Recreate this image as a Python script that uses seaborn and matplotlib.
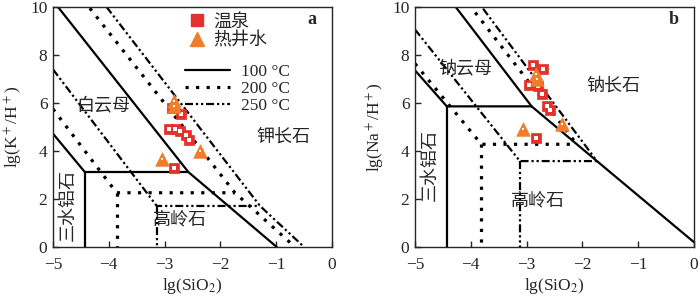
import matplotlib
matplotlib.use("Agg")
import matplotlib.pyplot as plt
import seaborn as sns
import pandas as pd
from matplotlib.lines import Line2D

# ---------------- data ----------------
# panel a : lg(K+/H+) vs lg(SiO2)
a_spring_x = [-2.87, -2.71, -2.93, -2.81, -2.72, -2.62, -2.56, -2.84]
a_spring_y = [5.80, 5.56, 4.90, 4.90, 4.82, 4.65, 4.44, 3.31]
a_well_x = [-2.84, -2.83, -2.37, -3.04]
a_well_y = [6.08, 5.86, 4.00, 3.68]

a_100_upper_x = [-4.91, -2.575, -0.99]
a_100_upper_y = [10.0, 3.125, 0.0]
a_100_lower_x = [-5.0, -4.43, -2.575]
a_100_lower_y = [4.72, 3.125, 3.125]
a_100_vert_x = [-4.43, -4.43]
a_100_vert_y = [3.125, 0.0]

a_200_upper_x = [-4.34, -1.74, -0.72]
a_200_upper_y = [9.95, 2.26, 0.12]
a_200_lower_x = [-5.0, -3.86, -1.74]
a_200_lower_y = [5.75, 2.26, 2.26]
a_200_vert_x = [-3.86, -3.86]
a_200_vert_y = [2.26, 0.0]

a_250_upper_x = [-4.04, -1.29, -0.50]
a_250_upper_y = [10.0, 1.71, 0.0]
a_250_lower_x = [-5.0, -3.14, -1.29]
a_250_lower_y = [7.40, 1.71, 1.71]
a_250_vert_x = [-3.14, -3.14]
a_250_vert_y = [1.71, 0.0]

# panel b : lg(Na+/H+) vs lg(SiO2)
b_spring_x = [-2.89, -2.71, -2.96, -2.80, -2.72, -2.63, -2.58, -2.84]
b_spring_y = [7.60, 7.43, 6.76, 6.69, 6.36, 5.86, 5.72, 4.56]
b_well_x = [-2.84, -2.82, -3.06, -2.36]
b_well_y = [7.22, 7.00, 4.90, 5.11]

b_100_upper_x = [-4.27, -2.91, -1.74, 0.0]
b_100_upper_y = [10.0, 5.86, 3.58, 0.2]
b_100_lower_x = [-5.0, -4.43, -2.91]
b_100_lower_y = [7.36, 5.86, 5.86]
b_100_vert_x = [-4.43, -4.43]
b_100_vert_y = [5.86, 0.0]

b_200_upper_x = [-3.92, -2.10]
b_200_upper_y = [9.77, 4.28]
b_200_lower_x = [-5.0, -3.81, -2.10]
b_200_lower_y = [7.64, 4.28, 4.28]
b_200_vert_x = [-3.81, -3.81]
b_200_vert_y = [4.28, 0.0]

b_250_upper_x = [-3.78, -1.74]
b_250_upper_y = [9.93, 3.58]
b_250_lower_x = [-5.0, -3.12, -1.74]
b_250_lower_y = [9.06, 3.58, 3.58]
b_250_vert_x = [-3.12, -3.12]
b_250_vert_y = [3.58, 0.0]

x_ticks = [-5, -4, -3, -2, -1, 0]
x_tick_labels = ["\u22125", "\u22124", "\u22123", "\u22122", "\u22121", "0"]
y_ticks = [0, 2, 4, 6, 8, 10]

labels_a = [("白云母", -4.10, 5.83, 0), ("钾长石", -0.87, 4.58, 0),
            ("高岭石", -2.72, 1.11, 0), ("三水铝石", -4.73, 1.75, 90)]
labels_b = [("钠云母", -4.10, 7.43, 0), ("钠长石", -1.45, 6.70, 0),
            ("高岭石", -2.79, 1.94, 0), ("三水铝石", -4.73, 3.40, 90)]

# ---------------- style ----------------
sns.set_style("ticks")
plt.rcParams['font.family'] = ['Liberation Serif', 'Noto Sans CJK SC']
plt.rcParams['mathtext.fontset'] = 'stix'
plt.rcParams['xtick.direction'] = 'in'
plt.rcParams['ytick.direction'] = 'in'

RED = "#e4312b"
ORANGE = "#f07d2c"
LW100, LW200, LW250 = 1.6, 2.3, 1.6
ls_200 = (0, (1, 2.3))
ls_250 = (0, (3.6, 1.3, 1, 1.3, 1, 1.3))

fig = plt.figure(figsize=(7.0, 2.99), dpi=100)
ax_a = fig.add_axes([53/700, 52/299, 279/700, 240/299])
ax_b = fig.add_axes([415/700, 52/299, 279/700, 240/299])


def draw_line(ax, xs, ys, style):
    df = pd.DataFrame({"x": xs, "y": ys})
    if style == "100":
        kw = dict(color="black", lw=LW100, linestyle="-")
    elif style == "200":
        kw = dict(color="black", lw=LW200, linestyle=ls_200)
    else:
        kw = dict(color="black", lw=LW250, linestyle=ls_250)
    sns.lineplot(data=df, x="x", y="y", ax=ax, sort=False, estimator=None, **kw)


def draw_panel(ax, lines, spring, well, labels, letter, ylabel):
    for xs, ys, st in lines:
        draw_line(ax, xs, ys, st)
    sns.scatterplot(x=spring[0], y=spring[1], ax=ax, marker="s", s=62,
                    color=RED, edgecolor=RED, linewidth=0.5, zorder=5)
    sns.scatterplot(x=spring[0], y=spring[1], ax=ax, marker="s", s=5,
                    color="white", linewidth=0, zorder=6)
    sns.scatterplot(x=well[0], y=well[1], ax=ax, marker="^", s=95,
                    color=ORANGE, edgecolor=ORANGE, linewidth=0.5, zorder=7)
    sns.scatterplot(x=well[0], y=well[1], ax=ax, marker="s", s=4,
                    color="white", linewidth=0, zorder=8)
    for txt, x, y, rot in labels:
        ax.text(x, y, txt, fontsize=13, ha="center", va="center", rotation=rot)
    ax.text(-0.36, 9.5, letter, fontsize=13, fontweight="bold", ha="center", va="center")
    ax.set_xlim(-5, 0)
    ax.set_ylim(0, 10)
    ax.set_xticks(x_ticks)
    ax.set_xticklabels(x_tick_labels)
    ax.set_yticks(y_ticks)
    ax.tick_params(labelsize=12.5, length=4, width=1.0)
    ax.tick_params(axis="x", pad=7)
    ax.tick_params(axis="y", pad=4)
    ax.set_xlabel("lg(SiO$_2$)", fontsize=12.5, labelpad=2)
    ax.set_ylabel(ylabel, fontsize=12.5, labelpad=4)
    for sp in ax.spines.values():
        sp.set_linewidth(1.0)
        sp.set_visible(True)


lines_a = [(a_100_upper_x, a_100_upper_y, "100"), (a_100_lower_x, a_100_lower_y, "100"),
           (a_100_vert_x, a_100_vert_y, "100"),
           (a_200_upper_x, a_200_upper_y, "200"), (a_200_lower_x, a_200_lower_y, "200"),
           (a_200_vert_x, a_200_vert_y, "200"),
           (a_250_upper_x, a_250_upper_y, "250"), (a_250_lower_x, a_250_lower_y, "250"),
           (a_250_vert_x, a_250_vert_y, "250")]
lines_b = [(b_100_upper_x, b_100_upper_y, "100"), (b_100_lower_x, b_100_lower_y, "100"),
           (b_100_vert_x, b_100_vert_y, "100"),
           (b_200_upper_x, b_200_upper_y, "200"), (b_200_lower_x, b_200_lower_y, "200"),
           (b_200_vert_x, b_200_vert_y, "200"),
           (b_250_upper_x, b_250_upper_y, "250"), (b_250_lower_x, b_250_lower_y, "250"),
           (b_250_vert_x, b_250_vert_y, "250")]

draw_panel(ax_a, lines_a, (a_spring_x, a_spring_y), (a_well_x, a_well_y), labels_a, "a",
           "lg(K$^+$/H$^+$)")
draw_panel(ax_b, lines_b, (b_spring_x, b_spring_y), (b_well_x, b_well_y), labels_b, "b",
           "lg(Na$^+$/H$^+$)")

# legends (panel a)
h_mark = [Line2D([], [], marker="s", ls="none", ms=8, mfc=RED, mec=RED),
          Line2D([], [], marker="^", ls="none", ms=10, mfc=ORANGE, mec=ORANGE)]
leg1 = ax_a.legend(h_mark, ["温泉", "热井水"], loc="upper left",
                   bbox_to_anchor=(0.44, 1.025), frameon=False, fontsize=13,
                   handlelength=1.0, handletextpad=0.4, labelspacing=0.1,
                   borderpad=0.2)
ax_a.add_artist(leg1)
h_line = [Line2D([], [], color="black", lw=LW100, ls="-"),
          Line2D([], [], color="black", lw=LW200, ls=ls_200),
          Line2D([], [], color="black", lw=LW250, ls=ls_250)]
ax_a.legend(h_line, ["100 °C", "200 °C", "250 °C"], loc="upper left",
            bbox_to_anchor=(0.43, 0.815), frameon=False, fontsize=12.5,
            handlelength=2.6, handletextpad=0.6, labelspacing=0.05, borderpad=0.2)

fig.savefig("out.png", dpi=100)
